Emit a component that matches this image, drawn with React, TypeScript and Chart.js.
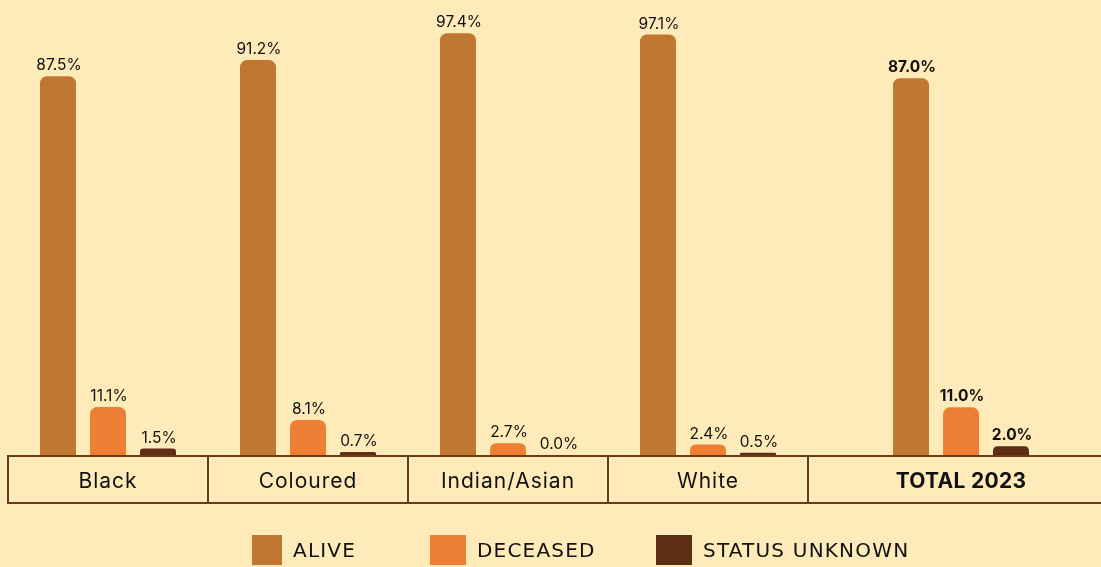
import React, { useEffect, useRef } from "react";
import { Chart, registerables } from "chart.js";

Chart.register(...registerables);

// ---- data ----
const CATEGORIES = ["Black", "Coloured", "Indian/Asian", "White", "TOTAL 2023"];
const ALIVE = [87.5, 91.2, 97.4, 97.1, 87.0];
const DECEASED = [11.1, 8.1, 2.7, 2.4, 11.0];
const UNKNOWN = [1.5, 0.7, 0.0, 0.5, 2.0];
const SERIES_NAMES = ["ALIVE", "DECEASED", "STATUS UNKNOWN"];
const BOLD_CATEGORY = "TOTAL 2023";

// ---- layout / style ----
const COL_UNITS = [1, 1, 1, 1, 1.53];
const BG = "#FFEBB9";
const COLORS = ["#C07830", "#EC7F33", "#5E2E14"];
const BORDER = "#6B3A18";
const TEXT = "#111111";
const FONT = "Inter, 'Noto Sans', sans-serif";
const LEGEND_FONT = "'DejaVu Sans', sans-serif";
const LEGEND_X = [252, 430, 656];
const LEGEND_BOX_W = [30, 36, 36];

const centers: number[] = [];
{
  let s = 0;
  COL_UNITS.forEach((w) => {
    centers.push(s + w / 2);
    s += w;
  });
}

const toPoints = (vals: number[]) => vals.map((v, i) => ({ x: centers[i], y: v }));

const valueLabels = {
  id: "valueLabels",
  afterDatasetsDraw(chart: any) {
    const { ctx } = chart;
    ctx.save();
    ctx.fillStyle = TEXT;
    ctx.textAlign = "center";
    ctx.textBaseline = "alphabetic";
    chart.data.datasets.forEach((ds: any, di: number) => {
      const meta = chart.getDatasetMeta(di);
      meta.data.forEach((el: any, i: number) => {
        const bold = CATEGORIES[i] === BOLD_CATEGORY;
        ctx.font = `${bold ? "700" : "400"} 15.5px ${FONT}`;
        const v = ds.data[i].y;
        ctx.fillText(v.toFixed(1) + "%", el.x + 1, el.y - 6);
      });
    });
    ctx.restore();
  },
};

const tablePlugin = {
  id: "tableAxis",
  afterDatasetsDraw(chart: any) {
    const { ctx, chartArea } = chart;
    const x = chart.scales.x;
    const top = chartArea.bottom + 1;
    const bottom = top + 47;
    ctx.save();
    ctx.strokeStyle = BORDER;
    ctx.lineWidth = 2;
    let s = 0;
    COL_UNITS.forEach((w, i) => {
      const x0 = x.getPixelForValue(s);
      const x1 = x.getPixelForValue(s + w);
      ctx.strokeRect(x0, top, x1 - x0, bottom - top);
      const bold = CATEGORIES[i] === BOLD_CATEGORY;
      ctx.fillStyle = TEXT;
      ctx.font = `${bold ? "700" : "400"} 21px ${FONT}`;
      (ctx as any).letterSpacing = bold ? "0.3px" : "1px";
      ctx.textAlign = "center";
      ctx.textBaseline = "middle";
      ctx.fillText(CATEGORIES[i], x.getPixelForValue(s + w / 2), (top + bottom) / 2 + 2);
      s += w;
    });
    ctx.restore();
  },
};

const legendPlugin = {
  id: "customLegend",
  afterDraw(chart: any) {
    const { ctx } = chart;
    ctx.save();
    ctx.font = `400 20px ${LEGEND_FONT}`;
    (ctx as any).letterSpacing = "1.2px";
    ctx.textBaseline = "middle";
    ctx.textAlign = "left";
    chart.data.datasets.forEach((ds: any, i: number) => {
      const bx = LEGEND_X[i];
      const bw = LEGEND_BOX_W[i];
      ctx.fillStyle = ds.backgroundColor;
      ctx.fillRect(bx, 535, bw, 30);
      ctx.fillStyle = TEXT;
      ctx.fillText(ds.label, bx + bw + 11, 552);
    });
    ctx.restore();
  },
};

export default function App() {
  const ref = useRef<HTMLCanvasElement | null>(null);
  useEffect(() => {
    if (!ref.current) return;
    const chart = new Chart(ref.current, {
      type: "bar",
      data: {
        datasets: [ALIVE, DECEASED, UNKNOWN].map((vals, i) => ({
          label: SERIES_NAMES[i],
          data: toPoints(vals),
          backgroundColor: COLORS[i],
          borderRadius: 7,
          borderSkipped: "bottom",
          categoryPercentage: 0.75,
          barPercentage: 0.72,
        })),
      },
      options: {
        animation: false,
        responsive: true,
        maintainAspectRatio: false,
        layout: { padding: { top: 22, bottom: 112, left: 0, right: 0 } },
        scales: {
          x: {
            type: "linear",
            min: -0.04,
            max: (1101 - 8) / 200,
            display: false,
            offset: false,
            afterBuildTicks: (scale: any) => {
              scale.ticks = centers.map((v) => ({ value: v }));
            },
          },
          y: { min: 0, max: 100, display: false },
        },
        plugins: {
          legend: { display: false },
          tooltip: { enabled: false },
        },
      },
      plugins: [tablePlugin, valueLabels, legendPlugin],
    });
    return () => chart.destroy();
  }, []);
  return (
    <div
      style={{
        position: "fixed",
        left: 0,
        top: 0,
        width: 1101,
        height: 567,
        background: BG,
      }}
    >
      <canvas ref={ref} style={{ display: "block" }} />
    </div>
  );
}
